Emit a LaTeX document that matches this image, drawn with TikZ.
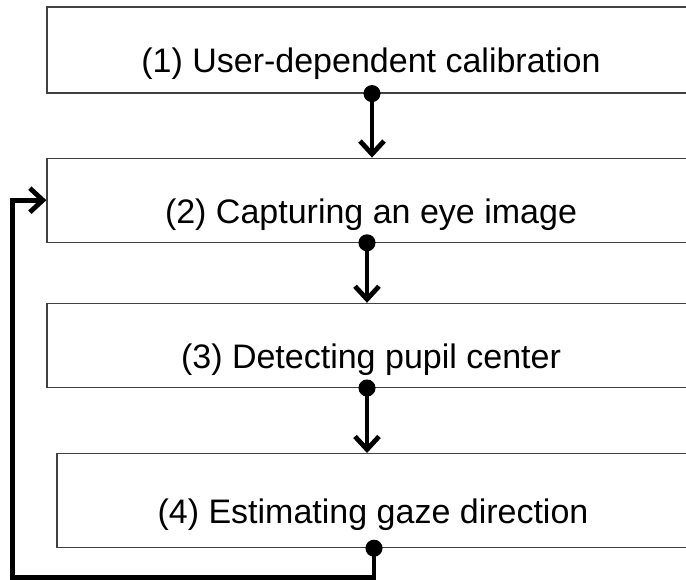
\documentclass[tikz,border=0pt]{standalone}
\usepackage{fontspec}
\setmainfont{Liberation Sans}
\usetikzlibrary{positioning,arrows.meta}

\begin{document}
\begin{tikzpicture} [
			x=1pt,y=1pt,
			stepbox/.style={draw=black!75,line width=1.2pt,inner sep=0pt,minimum width=648pt,minimum height=84pt,text height=46pt,text depth=0pt,font=\fontsize{34}{40}\selectfont},
			flow/.style={line width=4.8pt,{Circle[length=17pt]}-{Straight Barb[length=13pt,width=24pt]},shorten <=-8.5pt},
			node distance=60pt,
		]
		\useasboundingbox (0,0) rectangle (686,-580);
		
		\node[stepbox,minimum height=86pt] (calib) at (371,-50) {(1) User-dependent calibration};
		\node[stepbox] (capture) [below=64pt of calib] {(2) Capturing an eye image};
		\node[stepbox] (pupil) [below=of capture] {(3) Detecting pupil center};
		\node[stepbox,minimum width=632pt,minimum height=94pt] (gaze) [below=65pt of pupil,xshift=2pt] {(4) Estimating gaze direction};
		
		\draw[flow] ([xshift=1pt]calib.south) -- ([xshift=1pt]capture.north);
		\draw[flow] ([xshift=-4pt]capture.south) -- ([xshift=-4pt]pupil.north);
		\draw[flow] ([xshift=-4pt]pupil.south) -- ([xshift=-6pt]gaze.north);
		\draw[flow] ([xshift=1pt]gaze.south) -- ++(0,-29) -| ([xshift=-34pt]capture.west) -- (capture.west);
		
	\end{tikzpicture}
\end{document}
